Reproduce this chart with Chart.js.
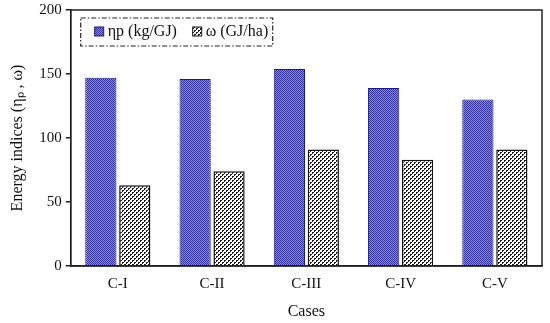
<html>
<head>
<script src="https://cdn.jsdelivr.net/npm/chart.js@4/dist/chart.umd.min.js"></script>
</head>
<body style="margin:0; background:#fff;">
<div style="width:550px; height:323px;">
<canvas id="energyChart" width="550" height="323"></canvas>
</div>
<script>
const cases = ["C-I", "C-II", "C-III", "C-IV", "C-V"];
const etaP = [147, 146, 154, 139, 130];
const omega = [63, 74, 91, 83, 91];
const seriesNames = ["\u03b7p (kg/GJ)", "\u03c9 (GJ/ha)"];
const yTicks = [0, 50, 100, 150, 200];

// little tiles used as bar fills
function makePattern(w, h, draw) {
  const c = document.createElement("canvas");
  c.width = w; c.height = h;
  draw(c.getContext("2d"));
  return c.getContext("2d").createPattern(c, "repeat");
}
const bluePattern = makePattern(2, 2, g => {
  g.fillStyle = "#8686e0"; g.fillRect(0, 0, 2, 2);
  g.fillStyle = "#34349c"; g.fillRect(0, 0, 1, 1); g.fillRect(1, 1, 1, 1);
});
const dotPattern = makePattern(4, 4, g => {
  g.fillStyle = "#ffffff"; g.fillRect(0, 0, 4, 4);
  g.fillStyle = "#1a1a1a";
  g.fillRect(0, 0, 2, 1); g.fillRect(0, 1, 1, 1);
  g.fillRect(2, 2, 2, 1); g.fillRect(2, 3, 1, 1);
});

const serif = "'Liberation Serif', 'Times New Roman', serif";

const framePlugin = {
  id: "frame",
  afterDraw(chart) {
    const ctx = chart.ctx, a = chart.chartArea;
    ctx.save();
    ctx.strokeStyle = "#222"; ctx.lineWidth = 1.5;
    ctx.strokeRect(a.left, a.top, a.right - a.left, a.bottom - a.top);

    // legend box with dash-dot border
    const lx = a.left + 10, ly = a.top + 8, lw = 192, lh = 28;
    ctx.lineWidth = 1.2;
    ctx.setLineDash([5, 2, 1.5, 2]);
    ctx.strokeRect(lx, ly, lw, lh);
    ctx.setLineDash([]);
    ctx.font = "16px " + serif;
    ctx.fillStyle = "#111";
    ctx.textBaseline = "middle";
    const items = [
      { fill: bluePattern, border: "#1a1a80", x: lx + 14 },
      { fill: dotPattern, border: "#111", x: lx + 112 }
    ];
    items.forEach((it, i) => {
      ctx.fillStyle = it.fill;
      ctx.fillRect(it.x, ly + 9, 9, 9);
      ctx.strokeStyle = it.border; ctx.lineWidth = 1;
      ctx.strokeRect(it.x, ly + 9, 9, 9);
      ctx.fillStyle = "#111";
      ctx.fillText(seriesNames[i], it.x + 13, ly + 14);
    });
    ctx.restore();
  }
};

new Chart("energyChart", {
  type: "bar",
  data: {
    labels: cases,
    datasets: [{
      label: seriesNames[0],
      data: etaP,
      backgroundColor: bluePattern,
      borderColor: "#1a1a80",
      borderWidth: 1
    }, {
      label: seriesNames[1],
      data: omega,
      backgroundColor: dotPattern,
      borderColor: "#111",
      borderWidth: 1.5
    }]
  },
  options: {
    responsive: false,
    animation: false,
    categoryPercentage: 0.72,
    barPercentage: 0.92,
    layout: { padding: { top: 10, right: 8, left: 4, bottom: 0 } },
    plugins: {
      legend: { display: false },
      tooltip: { enabled: false }
    },
    scales: {
      x: {
        afterFit(scale) { scale.height = 57; scale.paddingLeft = 0; scale.paddingRight = 0; },
        grid: { display: false, drawTicks: false },
        border: { color: "#222", width: 1.5 },
        ticks: { color: "#111", font: { family: serif, size: 15 }, padding: 9 },
        title: { display: true, text: "Cases", color: "#111", font: { family: serif, size: 16 }, padding: { top: 1, bottom: 2 } }
      },
      y: {
        min: 0, max: 200,
        afterFit(scale) { scale.paddingTop = 0; scale.paddingBottom = 0; },
        afterBuildTicks(scale) { scale.ticks = yTicks.map(v => ({ value: v })); },
        grid: { drawOnChartArea: false, tickLength: 5, color: "#222", lineWidth: 1.5 },
        border: { color: "#222", width: 1.5 },
        ticks: { color: "#111", font: { family: serif, size: 15 }, padding: 4 },
        title: { display: true, text: "Energy indices (\u03b7\u209a , \u03c9)", color: "#111", font: { family: serif, size: 16 }, padding: { bottom: 8 } }
      }
    }
  },
  plugins: [framePlugin]
});
</script>
</body>
</html>
